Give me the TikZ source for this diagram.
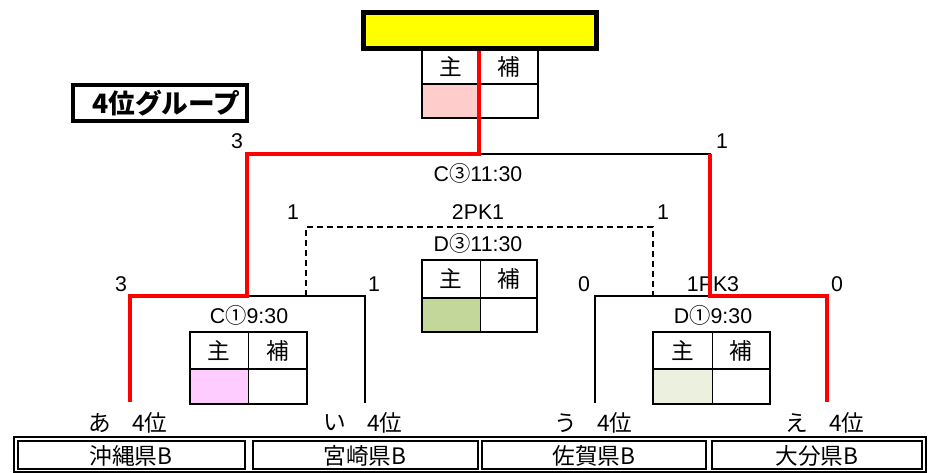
\documentclass[tikz,border=0pt]{standalone}
\usepackage{fontspec}
\setmainfont{Liberation Sans}
\newfontfamily\jp{Noto Sans CJK JP}
\definecolor{boxyellow}{HTML}{FFFF00}
\definecolor{fpink}{HTML}{FFCCCC}
\definecolor{fgreen}{HTML}{C4D79B}
\definecolor{fmag}{HTML}{FFCCFF}
\definecolor{flight}{HTML}{EBF1DE}
\definecolor{winred}{HTML}{FF0000}
\newcommand{\sctab}[8]{%
  \fill[#7] (#1,#4) rectangle (#3,#6);
  \draw[line width=0.75pt] (#3,#2) -- (#3,#6);
  \draw[line width=1.8pt] (#1,#4) -- (#5,#4);
  \draw[line width=2.2pt] (#1,#2) rectangle (#5,#6);
  \node[jpl] (#8m) at ({(#1+#3)/2},{(#2+#4)/2}) {主};
  \node[jpl] (#8s) at ({(#3+#5)/2},{(#2+#4)/2}) {補};
}
\begin{document}
\begin{tikzpicture}[x=0.75pt,y=-0.75pt,
  every node/.style={inner sep=0pt,font=\fontsize{16}{18}\selectfont},
  jpl/.style={font=\jp\fontsize{17}{19}\selectfont},
  num/.style={font=\fontsize{16}{18}\selectfont},
  blk/.style={line width=2pt,black,line cap=rect},
  win/.style={line width=3pt,winred,line join=miter},
  dsh/.style={line width=1.6pt,dash pattern=on 4.5pt off 3pt},
  cell/.style={line width=1.5pt}]
\useasboundingbox (0,0) rectangle (928,473);
\fill[white] (0,0) rectangle (928,473);

% score tables
\sctab{422}{50}{479}{84}{538}{118}{fpink}{tf}
\sctab{422}{260}{480}{298}{537}{332}{fgreen}{tm}
\sctab{190}{332}{248}{369}{307}{404}{fmag}{tl}
\sctab{653}{332}{712}{369}{770}{404}{flight}{tr}

% final box
\node[draw,line width=3.2pt,fill=boxyellow,minimum width=174.75pt,minimum height=27pt] (yb) at (480,30.5) {};

% title
\draw[line width=3pt] (73,85) rectangle (247,121);
\node[anchor=west,font=\jp\bfseries\fontsize{20}{22}\selectfont] (title) at (92,103) {4位グループ};

% coordinates of the bracket
\coordinate (F) at (479,154);
\coordinate (SLt) at (247,154);
\coordinate (SLb) at (247,296);
\coordinate (SRt) at (710,154);
\coordinate (SRb) at (710,296);
\coordinate (QLa) at (130,296);
\coordinate (QLb) at (365,296);
\coordinate (QRa) at (595,296);
\coordinate (QRb) at (827,296);
\coordinate (A) at (130,402);
\coordinate (B) at (365,402);
\coordinate (C) at (595,402);
\coordinate (D) at (827,402);
\coordinate (DL) at (306,296);
\coordinate (DLt) at (306,227);
\coordinate (DRt) at (653,227);
\coordinate (DR) at (653,296);

% labels
\node[num] (s1) at (237,141) {3};
\node[num] (s2) at (722,141) {1};
\node (mc3) at (478,173) {C{\jp ③}11:30};
\node[num] (s3) at (293,212) {1};
\node (pk1) at (478,212) {2PK1};
\node[num] (s4) at (663,212) {1};
\node (md3) at (478,243) {D{\jp ③}11:30};
\node[num] (s5) at (121,284) {3};
\node[num] (s6) at (374,284) {1};
\node[num] (s7) at (584,284) {0};
\node (pk2) at (713,284) {1PK3};
\node[num] (s8) at (837,284) {0};
\node (mc1) at (249,315) {C{\jp ①}9:30};
\node (md1) at (713,315) {D{\jp ①}9:30};

% black lines
\draw[blk] (F) -- (SRt);
\draw[blk] (SLb) -- (QLb) -- (B);
\draw[blk] (SRb) -- (QRa) -- (C);
\draw[dsh] (DL) -- (DLt) -- (DRt) -- (DR);

% red lines (winners)
\draw[win] (yb.south -| F) -- (F) -- (SLt) -- (SLb) -- (QLa) -- (A);
\draw[win] (SRt) -- (SRb) -- (QRb) -- (D);

% seed labels
\node[jpl] (ka) at (100,423) {あ};
\node[jpl] (ra) at (150,423) {4位};
\node[jpl] (kb) at (335,423) {い};
\node[jpl] (rb) at (385,423) {4位};
\node[jpl] (kc) at (566,423) {う};
\node[jpl] (rc) at (615,423) {4位};
\node[jpl] (kd) at (797,423) {え};
\node[jpl] (rd) at (847,423) {4位};

% bottom team table
\draw[cell] (14,437) rectangle (926,472);
\draw[cell] (18,441) rectangle (245,469);
\draw[cell] (253,441) rectangle (478,469);
\draw[cell] (482,441) rectangle (706,469);
\draw[cell] (712,441) rectangle (922,469);
\node[jpl] (t1) at (131,456) {沖縄県B};
\node[jpl] (t2) at (365,456) {宮崎県B};
\node[jpl] (t3) at (594,456) {佐賀県B};
\node[jpl] (t4) at (817,456) {大分県B};
\end{tikzpicture}
\end{document}
